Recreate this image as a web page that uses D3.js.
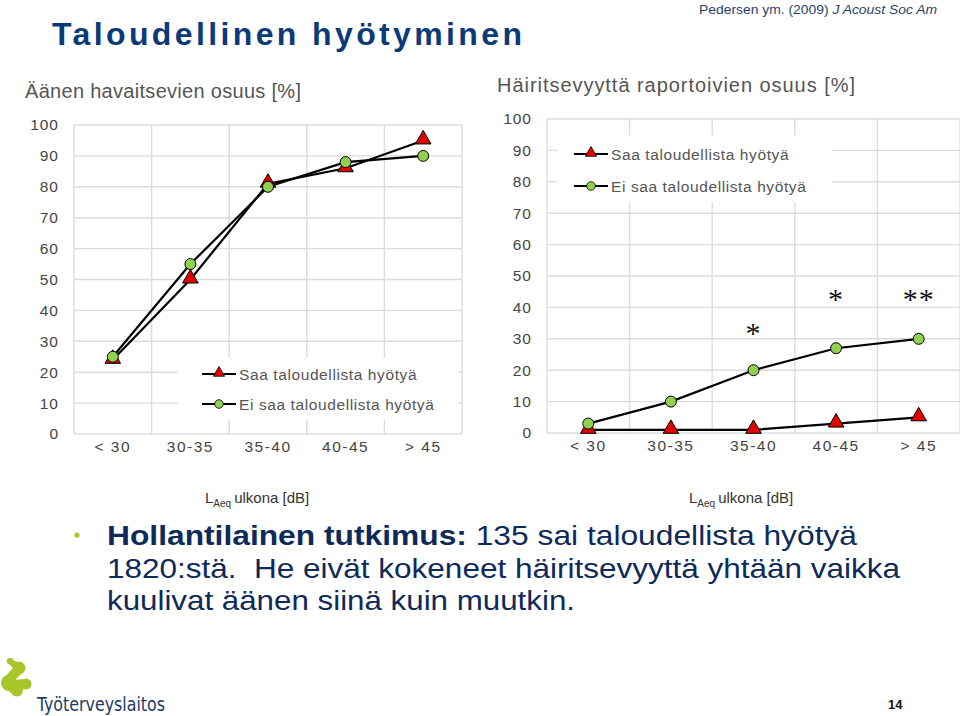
<!DOCTYPE html>
<html>
<head>
<meta charset="utf-8">
<script src="https://cdn.jsdelivr.net/npm/d3@7"></script>
<style>
  html, body { margin: 0; padding: 0; background: #fff; }
  svg { display: block; font-family: "Liberation Sans", Arial, sans-serif; }
</style>
</head>
<body>
<svg id="slide" width="960" height="716"></svg>
<script>
// ── Data ──────────────────────────────────────────────────────────────────────
const categories   = ['<30', '30-35', '35-40', '40-45', '>45'];
const seriesNames  = ['Saa taloudellista hyötyä', 'Ei saa taloudellista hyötyä'];
const yTicks       = [0, 10, 20, 30, 40, 50, 60, 70, 80, 90, 100];

// Äänen havaitsevien osuus [%]
const heardSaa     = [24, 50, 81, 86, 95];
const heardEiSaa   = [25, 55, 80, 88, 90];

// Häiritsevyyttä raportoivien osuus [%]
const annoyedSaa   = [1, 1, 1, 3, 5];
const annoyedEiSaa = [3, 10, 20, 27, 30];

// significance marks on the right chart
const sigCats   = ['35-40', '40-45', '>45'];
const sigLabels = ['*', '*', '**'];
const sigLevels = [34, 45, 45];

const svg = d3.select('#slide');

const BLUE = '#0c3a78';
const GREY = '#555';
const RED = '#e00000';
const GREEN = '#92d050';

// ── Header ────────────────────────────────────────────────────────────────────
svg.append('text')
    .attr('x', 52).attr('y', 45)
    .attr('font-size', 32).attr('font-weight', 'bold')
    .attr('fill', BLUE)
    .attr('textLength', 470).attr('lengthAdjust', 'spacing')
    .text('Taloudellinen hyötyminen');

const cite = svg.append('text')
    .attr('x', 937).attr('y', 14).attr('text-anchor', 'end')
    .attr('font-size', 13.5).attr('fill', '#2a3f6a')
    .attr('textLength', 238).attr('lengthAdjust', 'spacingAndGlyphs');
cite.append('tspan').text('Pedersen ym. (2009) ');
cite.append('tspan').attr('font-style', 'italic').text('J Acoust Soc Am');

// ── Chart drawing ─────────────────────────────────────────────────────────────
function drawChart(cfg) {
    const g = svg.append('g');
    const x = d3.scaleBand().domain(categories).range([cfg.x0, cfg.x1]);
    const y = d3.scaleLinear().domain([0, 100]).range([cfg.y0, cfg.y1]);

    // grid
    const grid = g.append('g').attr('stroke', '#dcdcdc').attr('stroke-width', 1.4);
    grid.selectAll('line.h').data(yTicks).join('line')
        .attr('x1', cfg.x0).attr('x2', cfg.x1)
        .attr('y1', d => y(d)).attr('y2', d => y(d));
    const vb = categories.map(c => x(c)).concat([cfg.x1]);
    grid.selectAll('line.v').data(vb).join('line')
        .attr('x1', d => d).attr('x2', d => d)
        .attr('y1', y(0)).attr('y2', y(100));

    // y axis labels
    const yAxis = d3.axisLeft(y).tickValues(yTicks).tickSize(0).tickPadding(0);
    const ya = g.append('g').attr('transform', `translate(${cfg.yLabelX},0)`).call(yAxis);
    ya.select('.domain').remove();
    ya.selectAll('text')
        .attr('font-size', 15.5).attr('fill', '#444')
        .attr('font-family', '"Liberation Sans", Arial, sans-serif')
        .attr('letter-spacing', 1);

    // x axis labels
    const xAxis = d3.axisBottom(x).tickSize(0).tickPadding(0)
        .tickFormat(d => d.replace(/^([<>])/, '$1 '));
    const xa = g.append('g').attr('transform', `translate(0,${cfg.xLabelY})`).call(xAxis);
    xa.select('.domain').remove();
    xa.selectAll('text')
        .attr('font-size', 15.5).attr('fill', '#444')
        .attr('font-family', '"Liberation Sans", Arial, sans-serif')
        .attr('letter-spacing', 1.5)
        .attr('xml:space', 'preserve')
        .attr('dy', 0);

    // legend box (white, covers grid)
    const lg = cfg.legend;
    g.append('rect')
        .attr('x', lg.bx).attr('y', lg.by).attr('width', lg.bw).attr('height', lg.bh)
        .attr('fill', '#fff');

    // series
    const cx = c => x(c) + x.bandwidth() / 2;
    const line = d3.line().x((d, i) => cx(categories[i])).y(d => y(d));
    const tri = d3.symbol().type(d3.symbolTriangle);
    const series = [
        { vals: cfg.saa, shape: 'tri' },
        { vals: cfg.eiSaa, shape: 'circ' }
    ];
    series.forEach(s => {
        g.append('path').datum(s.vals).attr('d', line)
            .attr('fill', 'none').attr('stroke', '#000').attr('stroke-width', 2.2);
    });
    series.forEach(s => {
        const m = g.append('g');
        if (s.shape === 'tri') {
            m.selectAll('path').data(s.vals).join('path')
                .attr('d', tri.size(105))
                .attr('transform', (d, i) => `translate(${cx(categories[i])},${y(d) - 1})`)
                .attr('fill', RED).attr('stroke', '#000').attr('stroke-width', 1);
        } else {
            m.selectAll('circle').data(s.vals).join('circle')
                .attr('cx', (d, i) => cx(categories[i])).attr('cy', d => y(d))
                .attr('r', 5.5)
                .attr('fill', GREEN).attr('stroke', '#000').attr('stroke-width', 1);
        }
    });

    // legend entries
    seriesNames.forEach((name, i) => {
        const ry = lg.ry[i];
        g.append('line')
            .attr('x1', lg.lx).attr('x2', lg.lx + 34).attr('y1', ry).attr('y2', ry)
            .attr('stroke', '#000').attr('stroke-width', 2);
        if (i === 0) {
            g.append('path').attr('d', tri.size(55))
                .attr('transform', `translate(${lg.lx + 17},${ry - 1})`)
                .attr('fill', RED).attr('stroke', '#000').attr('stroke-width', 0.8);
        } else {
            g.append('circle').attr('cx', lg.lx + 17).attr('cy', ry).attr('r', 4.3)
                .attr('fill', GREEN).attr('stroke', '#000').attr('stroke-width', 0.8);
        }
        g.append('text')
            .attr('x', lg.lx + 37).attr('y', ry + 5.5)
            .attr('font-size', 15.5).attr('fill', GREY).attr('letter-spacing', 0.6)
            .text(name);
    });

    // axis titles
    svg.append('text')
        .attr('x', cfg.yTitle[0]).attr('y', cfg.yTitle[1])
        .attr('font-size', 20).attr('fill', GREY)
        .attr('textLength', cfg.yTitleLen).attr('lengthAdjust', 'spacing')
        .text(cfg.yTitleText);
    const xt = svg.append('text')
        .attr('x', cfg.xTitle[0]).attr('y', cfg.xTitle[1])
        .attr('font-size', 15).attr('fill', '#333');
    xt.append('tspan').text('L');
    xt.append('tspan').attr('font-size', 10).attr('dy', 4).text('Aeq');
    xt.append('tspan').attr('dy', -4).attr('dx', 3).text('ulkona [dB]');

    return { g, x, y, cx };
}

drawChart({
    x0: 74, x1: 462, y0: 434, y1: 125,
    yLabelX: 59, xLabelY: 452,
    saa: heardSaa, eiSaa: heardEiSaa,
    legend: { bx: 178, by: 358, bw: 280, bh: 62, lx: 202, ry: [374, 404] },
    yTitle: [25, 98], yTitleLen: 276, yTitleText: 'Äänen havaitsevien osuus [%]',
    xTitle: [205, 503]
});

const right = drawChart({
    x0: 547, x1: 960, y0: 433, y1: 119,
    yLabelX: 532, xLabelY: 451,
    saa: annoyedSaa, eiSaa: annoyedEiSaa,
    legend: { bx: 557, by: 135, bw: 275, bh: 67, lx: 574, ry: [154, 186] },
    yTitle: [497, 92], yTitleLen: 358, yTitleText: 'Häiritsevyyttä raportoivien osuus [%]',
    xTitle: [689, 503]
});

right.g.selectAll('text.sig').data(sigLabels).join('text')
    .attr('class', 'sig')
    .attr('x', (d, i) => right.cx(sigCats[i]))
    .attr('y', (d, i) => right.y(sigLevels[i]) + 17)
    .attr('text-anchor', 'middle')
    .attr('font-family', '"Liberation Serif", "DejaVu Serif", serif')
    .attr('font-size', 30).attr('fill', '#111').attr('letter-spacing', 1)
    .text(d => d);

// ── Bullet text ───────────────────────────────────────────────────────────────
svg.append('circle').attr('cx', 77).attr('cy', 535).attr('r', 2.6).attr('fill', '#a8c62a');

const bodyLines = [
    [{ t: 'Hollantilainen tutkimus: ', b: true }, { t: '135 sai taloudellista hyötyä', b: false }],
    [{ t: '1820:stä.  He eivät kokeneet häiritsevyyttä yhtään vaikka', b: false }],
    [{ t: 'kuulivat äänen siinä kuin muutkin.', b: false }]
];
const bodyWidths = [750, 793, 468];
bodyLines.forEach((ln, i) => {
    const t = svg.append('text')
        .attr('x', 107).attr('y', 545 + i * 32.5)
        .attr('font-size', 27.5).attr('fill', '#0e2a5a')
        .attr('textLength', bodyWidths[i]).attr('lengthAdjust', 'spacingAndGlyphs')
        .attr('xml:space', 'preserve');
    ln.forEach(p => t.append('tspan').attr('font-weight', p.b ? 'bold' : 'normal').text(p.t));
});

// ── Footer: logo + page number ────────────────────────────────────────────────
const logo = svg.append('g').attr('fill', '#a8c62a');
[[10, 661, 3.2], [19, 668, 6.5], [9, 683, 8], [26, 684, 5.5], [17, 691, 5.5]]
    .forEach(([cx, cy, r]) => logo.append('circle').attr('cx', cx).attr('cy', cy).attr('r', r));
logo.append('path').attr('d', 'M8,663 L12,659 L20,664 L16,671 Z');
logo.append('path').attr('d', 'M13,668 L24,671 L15,680 L4,678 Z');
logo.append('path').attr('d', 'M9,691 L12,680 L25,679 L22,694 L14,696 Z');
svg.append('text')
    .attr('x', 37).attr('y', 711)
    .attr('font-size', 19).attr('fill', '#1d3b66')
    .attr('font-family', '"DejaVu Sans Condensed", "DejaVu Sans", sans-serif')
    .attr('textLength', 128).attr('lengthAdjust', 'spacingAndGlyphs')
    .text('Työterveyslaitos');

svg.append('text')
    .attr('x', 888).attr('y', 709)
    .attr('font-size', 13).attr('font-weight', 'bold').attr('fill', '#111')
    .text('14');
</script>
</body>
</html>
